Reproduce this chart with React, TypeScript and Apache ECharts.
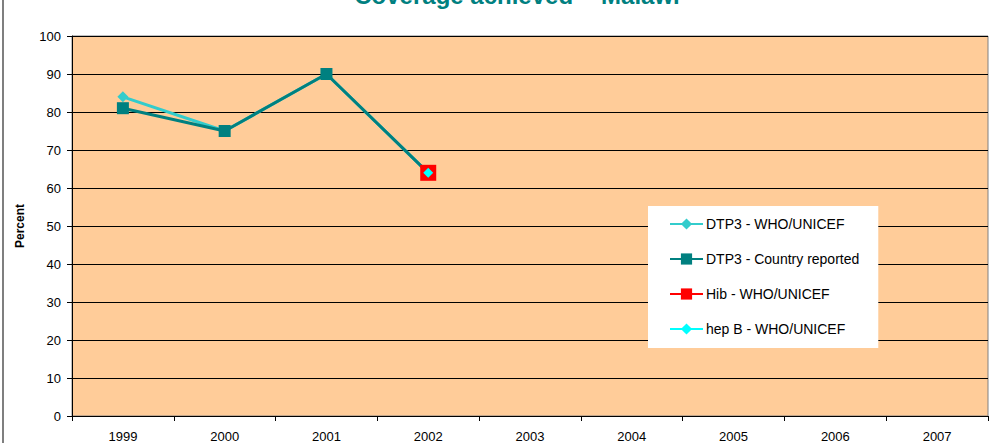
import React, { useEffect, useRef } from "react";
import * as echarts from "echarts";

const years = ["1999", "2000", "2001", "2002", "2003", "2004", "2005", "2006", "2007"];
const dtp3WhoUnicef = [84, 75, 90, 64, null, null, null, null, null];
const dtp3Country = [81, 75, 90, 64, null, null, null, null, null];
const hibWhoUnicef = [null, null, null, 64, null, null, null, null, null];
const hepBWhoUnicef = [null, null, null, 64, null, null, null, null, null];
const yTicks = { min: 0, max: 100, interval: 10 };

const FONT = "'Liberation Sans', Arial, sans-serif";

export default function App() {
  const ref = useRef<HTMLDivElement>(null);
  useEffect(() => {
    document.body.style.margin = "0";
    const chart = echarts.init(ref.current!, null, { renderer: "svg" });
    chart.setOption({
      animation: false,
      backgroundColor: "#ffffff",
      textStyle: { fontFamily: FONT },
      title: {
        text: "Coverage achieved  - Malawi",
        left: 512,
        textAlign: "center",
        top: -22,
        textStyle: { color: "#008080", fontSize: 24, fontWeight: "bold", fontFamily: FONT },
      },
      graphic: [
        {
          type: "rect",
          shape: { x: 3, y: -10, width: 1010, height: 470 },
          style: { fill: "none", stroke: "#555555", lineWidth: 1.5 },
          silent: true,
        },
      ],
      grid: {
        left: 72,
        right: 10,
        top: 36,
        bottom: 26,
        show: true,
        backgroundColor: "#FFCC99",
        borderColor: "#808080",
        borderWidth: 1,
      },
      legend: {
        orient: "vertical",
        left: 648,
        top: 206,
        backgroundColor: "#ffffff",
        padding: [11, 19, 12, 21],
        itemGap: 21,
        itemWidth: 33,
        itemHeight: 14,
        textStyle: { fontSize: 14, color: "#000000", fontFamily: FONT, padding: [0, 0, 0, -2] },
        data: [
          "DTP3 - WHO/UNICEF",
          "DTP3 - Country reported",
          "Hib - WHO/UNICEF",
          "hep B - WHO/UNICEF",
        ],
      },
      xAxis: {
        type: "category",
        data: years,
        boundaryGap: true,
        axisLine: { lineStyle: { color: "#000000", width: 1 } },
        axisTick: { show: true, length: 5, lineStyle: { color: "#000000" } },
        axisLabel: { color: "#000000", fontSize: 13, margin: 14, fontFamily: FONT },
        splitLine: { show: false },
      },
      yAxis: {
        type: "value",
        min: yTicks.min,
        max: yTicks.max,
        interval: yTicks.interval,
        name: "Percent",
        nameLocation: "middle",
        nameGap: 46,
        nameTextStyle: { fontSize: 12, fontWeight: "bold", color: "#000000", fontFamily: FONT },
        axisLine: { show: true, lineStyle: { color: "#000000", width: 1 } },
        axisTick: { show: true, length: 5, lineStyle: { color: "#000000" } },
        axisLabel: { color: "#000000", fontSize: 13, margin: 11, fontFamily: FONT },
        splitLine: { show: true, lineStyle: { color: "#000000", width: 1 } },
      },
      series: [
        {
          name: "DTP3 - WHO/UNICEF",
          type: "line",
          data: dtp3WhoUnicef,
          symbol: "diamond",
          symbolSize: 11,
          itemStyle: { color: "#33CCCC" },
          lineStyle: { color: "#33CCCC", width: 3 },
          z: 2,
        },
        {
          name: "DTP3 - Country reported",
          type: "line",
          data: dtp3Country,
          symbol: "rect",
          symbolSize: 12,
          itemStyle: { color: "#008080" },
          lineStyle: { color: "#008080", width: 3 },
          z: 3,
        },
        {
          name: "Hib - WHO/UNICEF",
          type: "line",
          data: hibWhoUnicef,
          symbol: "rect",
          symbolSize: 16,
          itemStyle: { color: "#FF0000" },
          lineStyle: { color: "#FF0000", width: 3 },
          z: 4,
        },
        {
          name: "hep B - WHO/UNICEF",
          type: "line",
          data: hepBWhoUnicef,
          symbol: "diamond",
          symbolSize: 10,
          itemStyle: { color: "#00FFFF" },
          lineStyle: { color: "#00FFFF", width: 3 },
          z: 5,
        },
      ],
    });
    return () => chart.dispose();
  }, []);
  return (
    <div
      ref={ref}
      style={{ position: "fixed", left: 0, top: 0, width: 998, height: 443 }}
    />
  );
}
